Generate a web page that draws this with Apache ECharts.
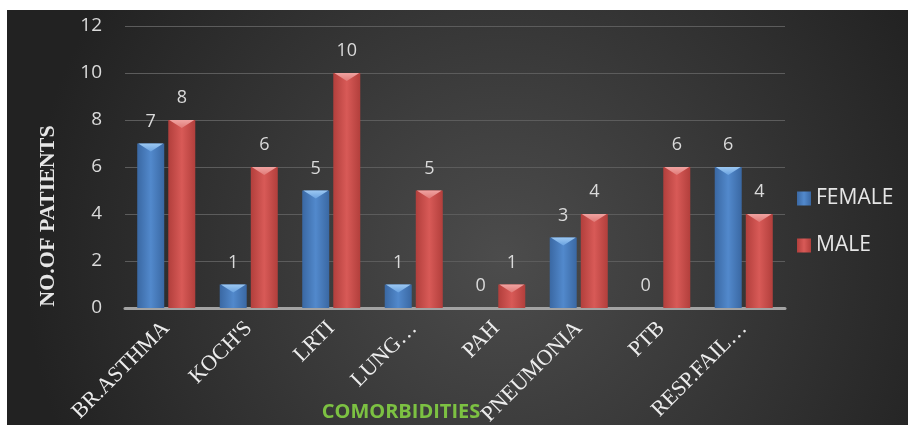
<!DOCTYPE html>
<html>
<head>
<meta charset="utf-8">
<script src="https://cdn.jsdelivr.net/npm/echarts@6/dist/echarts.min.js"></script>
<style>
  html, body { margin: 0; padding: 0; background: #ffffff; }
  #chart { width: 909px; height: 425px; }
</style>
</head>
<body>
<div id="chart"></div>
<script>
// Comorbidities by sex
const categories = ['BR.ASTHMA', "KOCH'S", 'LRTI', 'LUNG…', 'PAH', 'PNEUMONIA', 'PTB', 'RESP.FAIL…'];
const female = [7, 1, 5, 1, 0, 3, 0, 6];
const male = [8, 6, 10, 5, 1, 4, 6, 4];
const yTicks = { min: 0, max: 12, interval: 2 };

const G = echarts.graphic;
const blueFill = new G.LinearGradient(0, 0, 1, 0, [
  { offset: 0, color: '#3a68a3' },
  { offset: 0.5, color: '#5289cc' },
  { offset: 1, color: '#3a68a3' }
]);
const redFill = new G.LinearGradient(0, 0, 1, 0, [
  { offset: 0, color: '#b23f3c' },
  { offset: 0.5, color: '#d85a57' },
  { offset: 1, color: '#b23f3c' }
]);
const blueCap = new G.LinearGradient(0, 0, 0, 1, [
  { offset: 0, color: '#9cc8f2' },
  { offset: 1, color: '#6aa2e0' }
]);
const redCap = new G.LinearGradient(0, 0, 0, 1, [
  { offset: 0, color: '#f0a3a1' },
  { offset: 1, color: '#e07a77' }
]);

const BAR_W = 27;
const HALF_STEP = 15.5;
const capPath = 'path://M0,0 L20,0 L10,7 Z';

function capData(arr) {
  return arr.map(v => (v > 0 ? v : '-'));
}

const valueLabel = {
  show: true,
  position: 'top',
  distance: 13,
  color: '#dadada',
  fontFamily: 'Open Sans',
  fontSize: 18
};

const chart = echarts.init(document.getElementById('chart'), null, { renderer: 'canvas' });

chart.setOption({
  backgroundColor: '#ffffff',
  animation: false,
  graphic: [
    {
      type: 'rect',
      z: -10,
      shape: { x: 7, y: 10, width: 901, height: 415 },
      style: {
        fill: new G.RadialGradient(0.55, 0.6, 1.15, [
          { offset: 0, color: '#4c4c4c' },
          { offset: 1, color: '#222222' }
        ])
      }
    },
    {
      type: 'text',
      z: 10,
      x: 48,
      y: 216,
      rotation: Math.PI / 2,
      style: {
        text: 'NO.OF PATIENTS',
        fill: '#e6e6e6',
        font: 'bold 22px "Liberation Serif"',
        align: 'center',
        verticalAlign: 'middle'
      }
    },
    {
      type: 'text',
      z: 10,
      x: 401,
      y: 412,
      style: {
        text: 'COMORBIDITIES',
        fill: '#7cc142',
        font: 'bold 20px "Open Sans"',
        align: 'center',
        verticalAlign: 'middle'
      }
    }
  ],
  grid: {
    left: 125, right: 124, top: 26, bottom: 117,
    containLabel: false,
    outerBoundsMode: 'none'
  },
  legend: {
    data: ['FEMALE', 'MALE'],
    orient: 'vertical',
    left: 797,
    top: 188,
    padding: 0,
    itemWidth: 14,
    itemHeight: 14,
    itemGap: 26,
    icon: 'rect',
    textStyle: { color: '#e6e6e6', fontFamily: 'Open Sans', fontSize: 21 }
  },
  xAxis: {
    type: 'category',
    data: categories,
    axisLine: { lineStyle: { color: '#a3a3a3', width: 3 } },
    axisTick: { show: false },
    axisLabel: {
      interval: 0,
      rotate: 45,
      margin: 17,
      color: '#ececec',
      fontFamily: 'Liberation Serif',
      fontSize: 22
    }
  },
  yAxis: {
    type: 'value',
    min: yTicks.min,
    max: yTicks.max,
    interval: yTicks.interval,
    axisLine: { show: false },
    axisTick: { show: false },
    splitLine: { lineStyle: { color: '#5c5c5c', width: 1 } },
    axisLabel: {
      margin: 23,
      color: '#dadada',
      fontFamily: 'Open Sans',
      fontSize: 19
    }
  },
  series: [
    {
      name: 'FEMALE',
      type: 'bar',
      data: female,
      barWidth: BAR_W,
      barGap: '15%',
      itemStyle: { color: blueFill },
      label: valueLabel,
      z: 2
    },
    {
      name: 'MALE',
      type: 'bar',
      data: male,
      barWidth: BAR_W,
      barGap: '15%',
      itemStyle: { color: redFill },
      label: valueLabel,
      z: 2
    },
    {
      name: 'female-cap',
      type: 'pictorialBar',
      data: capData(female),
      symbol: capPath,
      symbolSize: [BAR_W - 2, 8],
      symbolPosition: 'end',
      symbolOffset: [-HALF_STEP, 0],
      itemStyle: { color: blueCap },
      silent: true,
      z: 3
    },
    {
      name: 'male-cap',
      type: 'pictorialBar',
      data: capData(male),
      symbol: capPath,
      symbolSize: [BAR_W - 2, 8],
      symbolPosition: 'end',
      symbolOffset: [HALF_STEP, 0],
      itemStyle: { color: redCap },
      silent: true,
      z: 3
    }
  ]
});
</script>
</body>
</html>
